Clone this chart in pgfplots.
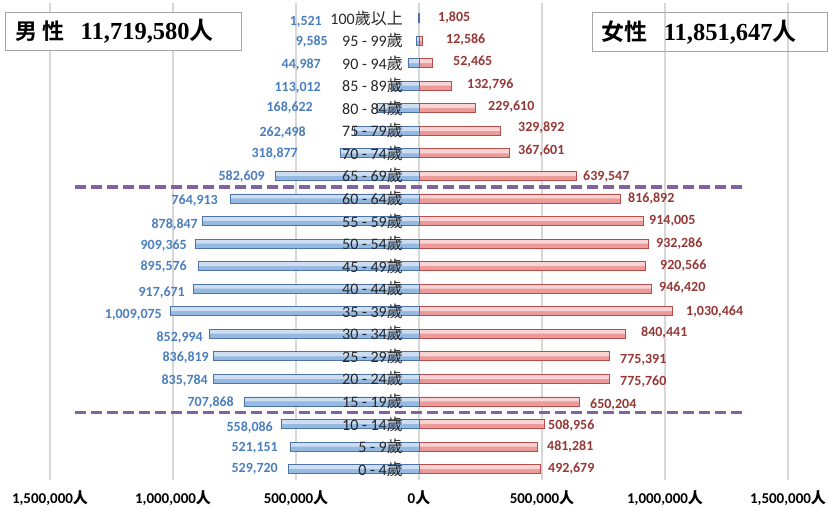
\documentclass[border=0pt]{standalone}
\usepackage{fontspec}
\setmainfont{Carlito}
\newfontfamily\cjk{Noto Sans CJK TC}
\newfontfamily\cjkb{Noto Sans CJK TC Bold}
\newfontfamily\tnr{Liberation Serif}
\usepackage{pgfplots}
\pgfplotsset{compat=1.18}
\usepackage{pgfplotstable}

\definecolor{mlab}{RGB}{74,126,190}
\definecolor{flab}{RGB}{149,55,53}
\definecolor{mtop}{RGB}{205,222,243}
\definecolor{mbot}{RGB}{150,185,226}
\definecolor{mbrd}{RGB}{78,115,165}
\definecolor{ftop}{RGB}{250,212,212}
\definecolor{fbot}{RGB}{236,155,155}
\definecolor{fbrd}{RGB}{185,75,72}
\definecolor{purp}{RGB}{128,100,162}
\definecolor{gridc}{RGB}{215,215,215}
\definecolor{boxc}{RGB}{165,165,165}

\pgfplotsset{
  layers/mylayers/.define layer set={
    axis background,axis grid,axis ticks,axis lines,main,axis tick labels,axis descriptions,axis foreground
  }{
    grid style={/pgfplots/on layer=axis grid},
    tick style={/pgfplots/on layer=axis ticks},
    axis line style={/pgfplots/on layer=axis lines},
    label style={/pgfplots/on layer=axis descriptions},
    legend style={/pgfplots/on layer=axis descriptions},
    title style={/pgfplots/on layer=axis descriptions},
    colorbar style={/pgfplots/on layer=axis descriptions},
    ticklabel style={/pgfplots/on layer=axis tick labels},
    axis background@ style={/pgfplots/on layer=axis background},
    3d box foreground style={/pgfplots/on layer=axis foreground},
  },
}

\pgfplotstableread{
y male female mlx mly mlab flx fly flab
0 529720 492679 -573200 0.00 529,720 524400 0.00 492,679
1 521151 481281 -573200 0.93 521,151 520300 0.98 481,281
2 558086 508956 -593500 1.82 558,086 524400 1.91 508,956
3 707868 650204 -752000 2.93 707,868 695100 2.84 650,204
4 835784 775760 -857700 3.90 835,784 817100 3.86 775,760
5 836819 775391 -853700 4.92 836,819 817100 4.83 775,391
6 852994 840441 -878000 5.81 852,994 902400 6.03 840,441
7 1009075 1030464 -1044700 6.83 1,009,075 1085400 6.96 1,030,464
8 917671 946420 -951200 7.80 917,671 975600 8.03 946,420
9 895576 920566 -943100 8.96 895,576 979700 9.00 920,566
10 909365 932286 -943100 9.89 909,365 963400 9.98 932,286
11 878847 914005 -898400 10.82 878,847 935000 11.00 914,005
12 764913 816892 -817100 11.88 764,913 849600 11.97 816,892
13 582609 639547 -626000 12.95 582,609 666700 12.95 639,547
14 318877 367601 -491900 13.97 318,877 402400 14.10 367,601
15 262498 329892 -459300 14.90 262,498 402400 15.12 329,892
16 168622 229610 -430900 16.01 168,622 280500 16.05 229,610
17 113012 132796 -398400 16.90 113,012 195100 17.03 132,796
18 44987 52465 -398400 17.92 44,987 138200 18.05 52,465
19 9585 12586 -369900 18.94 9,585 109800 19.02 12,586
20 1521 1805 -394300 19.82 1,521 77200 20.00 1,805
}\data

\begin{document}
\begin{tikzpicture}
\begin{axis}[
  set layers=mylayers,
  scale only axis,
  width=738pt, height=477pt,
  xmin=-1500000, xmax=1500000,
  ymin=-0.5, ymax=20.65,
  axis line style={draw=none},
  major tick length=0pt,
  xmajorgrids,
  grid style={gridc, line width=1.3pt},
  xtick={-1500000,-1000000,-500000,0,500000,1000000,1500000},
  xticklabels={{1,500,000{\cjkb 人}},{1,000,000{\cjkb 人}},{500,000{\cjkb 人}},{0{\cjkb 人}},{500,000{\cjkb 人}},{1,000,000{\cjkb 人}},{1,500,000{\cjkb 人}}},
  xticklabel style={font=\bfseries\fontsize{15}{15}\selectfont, text=black, yshift=-7pt},
  ytick={0,...,20},
  yticklabels={{0 - 4{\cjk 歲}},{5 - 9{\cjk 歲}},{10 - 14{\cjk 歲}},{15 - 19{\cjk 歲}},{20 - 24{\cjk 歲}},{25 - 29{\cjk 歲}},{30 - 34{\cjk 歲}},{35 - 39{\cjk 歲}},{40 - 44{\cjk 歲}},{45 - 49{\cjk 歲}},{50 - 54{\cjk 歲}},{55 - 59{\cjk 歲}},{60 - 64{\cjk 歲}},{65 - 69{\cjk 歲}},{70 - 74{\cjk 歲}},{75 - 79{\cjk 歲}},{80 - 84{\cjk 歲}},{85 - 89{\cjk 歲}},{90 - 94{\cjk 歲}},{95 - 99{\cjk 歲}},{100{\cjk 歲以上}}},
  yticklabel style={font=\fontsize{16}{16}\selectfont, text=black!85, anchor=east, inner sep=0pt, xshift=353pt},
  clip=false,
]
% bars: base fill, top highlight, outline
\addplot[xbar, bar width=9pt, bar shift=0pt, draw=none, fill=mbot]
  table[x expr=-\thisrow{male}, y=y]{\data};
\addplot[xbar, bar width=4.5pt, bar shift=2.25pt, draw=none, fill=mtop]
  table[x expr=-\thisrow{male}, y=y]{\data};
\addplot[xbar, bar width=9pt, bar shift=0pt, draw=mbrd, line width=0.8pt, fill=none]
  table[x expr=-\thisrow{male}, y=y]{\data};
\addplot[xbar, bar width=9pt, bar shift=0pt, draw=none, fill=fbot]
  table[x=female, y=y]{\data};
\addplot[xbar, bar width=4.5pt, bar shift=2.25pt, draw=none, fill=ftop]
  table[x=female, y=y]{\data};
\addplot[xbar, bar width=9pt, bar shift=0pt, draw=fbrd, line width=0.8pt, fill=none]
  table[x=female, y=y]{\data};
% value labels
\addplot[draw=none, mark=none, nodes near coords, point meta=explicit symbolic,
  every node near coord/.append style={anchor=east, inner sep=0pt, text=mlab, font=\bfseries\fontsize{14}{14}\selectfont}]
  table[x=mlx, y=mly, meta=mlab]{\data};
\addplot[draw=none, mark=none, nodes near coords, point meta=explicit symbolic,
  every node near coord/.append style={anchor=west, inner sep=0pt, text=flab, font=\bfseries\fontsize{14}{14}\selectfont}]
  table[x=flx, y=fly, meta=flab]{\data};
% dashed separators
\addplot[purp, line width=3.5pt, dash pattern=on 11pt off 5pt] coordinates {(-1398000,12.5) (1325000,12.5)};
\addplot[purp, line width=3.5pt, dash pattern=on 11pt off 5pt] coordinates {(-1398000,2.5) (1325000,2.5)};
% title boxes
\node[draw=boxc, fill=white, line width=0.9pt, minimum width=236pt, minimum height=38pt, inner sep=0pt]
  (mbox) at (axis cs:-1203300,19.42) {};
\node[anchor=west, inner sep=0pt] at ([xshift=11pt]mbox.west)
  {{\cjkb\fontsize{22}{22}\selectfont 男\hspace{5pt}性}\hspace{16pt}{\tnr\bfseries\fontsize{24.5}{24.5}\selectfont 11,719,580}{\cjkb\fontsize{24}{24}\selectfont 人}};
\node[draw=boxc, line width=0.9pt, minimum width=235pt, minimum height=39pt, inner sep=0pt]
  (fbox) at (axis cs:1180900,19.36) {};
\node[anchor=west, inner sep=0pt] at ([xshift=10pt]fbox.west)
  {{\cjkb\fontsize{23}{23}\selectfont 女性}\hspace{16pt}{\tnr\bfseries\fontsize{24.5}{24.5}\selectfont 11,851,647}{\cjkb\fontsize{24}{24}\selectfont 人}};
\coordinate (BL) at (axis cs:-1703250,-1.774);
\coordinate (TR) at (axis cs:1662600,20.798);
\end{axis}
\pgfresetboundingbox
\useasboundingbox (BL) rectangle (TR);
\end{tikzpicture}
\end{document}
